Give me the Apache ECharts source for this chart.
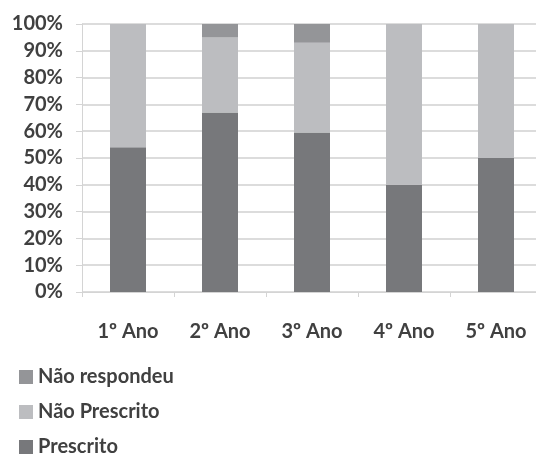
<!DOCTYPE html>
<html>
<head>
<meta charset="utf-8">
<script src="https://cdn.jsdelivr.net/npm/echarts@6/dist/echarts.min.js"></script>
<style>
  html, body { margin: 0; padding: 0; background: #fff; }
  #chart { width: 536px; height: 454px; }
</style>
</head>
<body>
<div id="chart"></div>
<script>
// School years on the category axis
const categories = ['1º Ano', '2º Ano', '3º Ano', '4º Ano', '5º Ano'];

// Share of answers per year (percent), stacked to 100%
const prescrito = [54, 67, 59.5, 40, 50];
const naoPrescrito = [46, 28, 33.5, 60, 50];
const naoRespondeu = [0, 5, 7, 0, 0];

// Legend entries, top to bottom
const legendNames = ['Não respondeu', 'Não Prescrito', 'Prescrito'];

const textColor = '#404040';
const fontFamily = 'Lato, "Open Sans", sans-serif';

const chart = echarts.init(document.getElementById('chart'), null, { renderer: 'canvas' });

const barSeries = (name, data, color) => ({
  name: name,
  type: 'bar',
  stack: 'total',
  data: data,
  barWidth: 36,
  itemStyle: { color: color },
  emphasis: { disabled: true }
});

// One single-entry legend per row keeps the column layout fixed
const legendRow = (name, i) => ({
  orient: 'vertical',
  left: 14,
  top: 362 + i * 35,
  itemWidth: 14,
  itemHeight: 14,
  itemGap: 0,
  icon: 'rect',
  itemStyle: { borderWidth: 0 },
  textStyle: { color: textColor, fontSize: 20, fontWeight: 'bold', fontFamily: fontFamily },
  data: [name]
});

chart.setOption({
  animation: false,
  textStyle: { fontFamily: fontFamily },
  grid: {
    left: 82,
    top: 24,
    right: -6,
    bottom: 162,
    containLabel: false,
    outerBoundsMode: 'none'
  },
  legend: legendNames.map(legendRow),
  xAxis: {
    type: 'category',
    data: categories,
    axisLine: { show: true, lineStyle: { color: '#d4d4d4', width: 1 } },
    axisTick: { show: true, length: 5, lineStyle: { color: '#d4d4d4' } },
    axisLabel: { color: textColor, fontSize: 20, fontWeight: 'bold', margin: 30, fontFamily: fontFamily }
  },
  yAxis: {
    type: 'value',
    min: 0,
    max: 100,
    interval: 10,
    axisLine: { show: true, lineStyle: { color: '#d4d4d4', width: 1 } },
    axisTick: { show: true, length: 6, lineStyle: { color: '#d4d4d4' } },
    splitLine: { show: true, lineStyle: { color: '#dcdcdc', width: 2 } },
    axisLabel: {
      color: textColor,
      fontSize: 20,
      fontWeight: 'bold',
      margin: 19,
      fontFamily: fontFamily,
      formatter: '{value}%'
    }
  },
  series: [
    barSeries('Prescrito', prescrito, '#77787b'),
    barSeries('Não Prescrito', naoPrescrito, '#bcbdc0'),
    barSeries('Não respondeu', naoRespondeu, '#949598')
  ]
});
</script>
</body>
</html>
